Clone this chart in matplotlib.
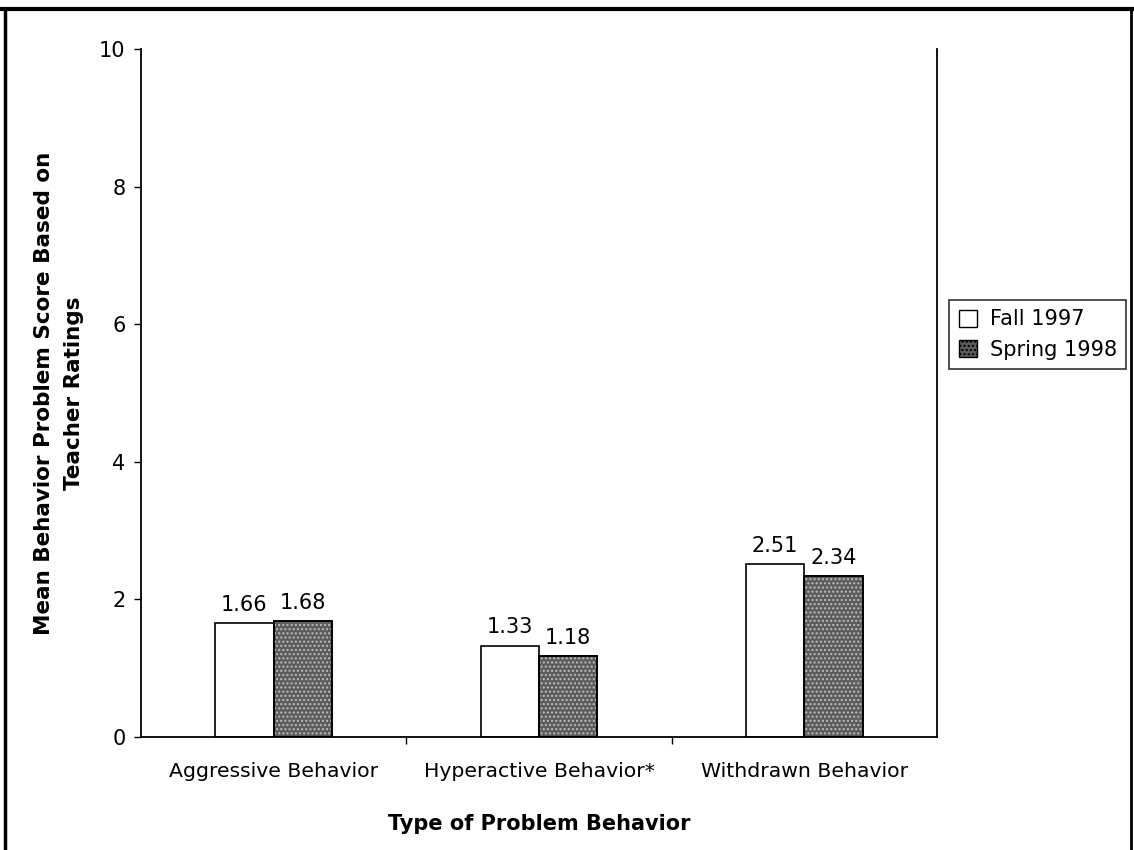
import numpy as np
import matplotlib.pyplot as plt
from matplotlib.lines import Line2D

categories = ['Aggressive Behavior', 'Hyperactive Behavior*', 'Withdrawn Behavior']
fall_1997 = [1.66, 1.33, 2.51]
spring_1998 = [1.68, 1.18, 2.34]
series_names = ['Fall 1997', 'Spring 1998']

plt.rcParams['font.family'] = ['DejaVu Sans']

fig = plt.figure(figsize=(11.34, 8.5), dpi=100)
ax = fig.add_axes([0.1243, 0.1329, 0.702, 0.8095])

x = np.arange(len(categories))
w = 0.22

# white bars for fall
ax.bar(x - w / 2, fall_1997, w, facecolor='white', edgecolor='black', linewidth=1.2, zorder=2)

# grey stippled bars for spring: fill + hatch, then outline on top
ax.bar(x + w / 2, spring_1998, w, facecolor='#5c5c5c', edgecolor='#bdbdbd',
       hatch='....', linewidth=0, zorder=2)
ax.bar(x + w / 2, spring_1998, w, facecolor='none', edgecolor='black', linewidth=1.4, zorder=3)

# value labels
for xi, v in zip(x - w / 2, fall_1997):
    ax.text(xi, v + 0.12, f'{v:.2f}', ha='center', va='bottom', fontsize=15)
for xi, v in zip(x + w / 2, spring_1998):
    ax.text(xi, v + 0.12, f'{v:.2f}', ha='center', va='bottom', fontsize=15)

ax.set_xlim(-0.5, 2.5)
ax.set_ylim(0, 10)
ax.set_yticks([0, 2, 4, 6, 8, 10])
ax.set_xticks([0.5, 1.5], minor=False)
ax.set_xticklabels([])
ax.set_xticks(x, minor=True)
ax.set_xticklabels(categories, minor=True, fontsize=14.7)
ax.tick_params(axis='x', which='minor', length=0, pad=18)
ax.tick_params(axis='x', which='major', direction='out', length=5, width=1)
ax.tick_params(axis='y', direction='out', length=5, width=1, labelsize=15, pad=6)

ax.spines['top'].set_visible(False)
for s in ['left', 'bottom', 'right']:
    ax.spines[s].set_linewidth(1.3)

ax.set_xlabel('Type of Problem Behavior', fontsize=15, fontweight='bold', labelpad=24)
ax.set_ylabel('Mean Behavior Problem Score Based on\nTeacher Ratings', fontsize=15.5,
              fontweight='bold', linespacing=1.65)
ax.yaxis.set_label_coords(-0.071, 0.5)

# legend
handles = [
    plt.Rectangle((0, 0), 1, 1, facecolor='white', edgecolor='black', linewidth=1),
    plt.Rectangle((0, 0), 1, 1, facecolor='#5c5c5c', edgecolor='black', hatch='....', linewidth=1),
]
leg = fig.legend(handles, series_names, loc='upper left', bbox_to_anchor=(0.837, 0.647),
                 fontsize=15, frameon=True, fancybox=False, edgecolor='black',
                 handlelength=0.9, handleheight=0.9, handletextpad=0.6,
                 borderpad=0.45, labelspacing=0.5, borderaxespad=0)
leg.get_frame().set_linewidth(1.2)

# outer page frame (scan border)
fig.add_artist(Line2D([0, 1], [0.990, 0.990], color='black', linewidth=3, transform=fig.transFigure))
fig.add_artist(Line2D([0.0045, 0.0045], [0, 0.990], color='black', linewidth=2.5, transform=fig.transFigure))
fig.add_artist(Line2D([0.9975, 0.9975], [0, 0.990], color='black', linewidth=2, transform=fig.transFigure))

fig.savefig('out.png', dpi=100)
